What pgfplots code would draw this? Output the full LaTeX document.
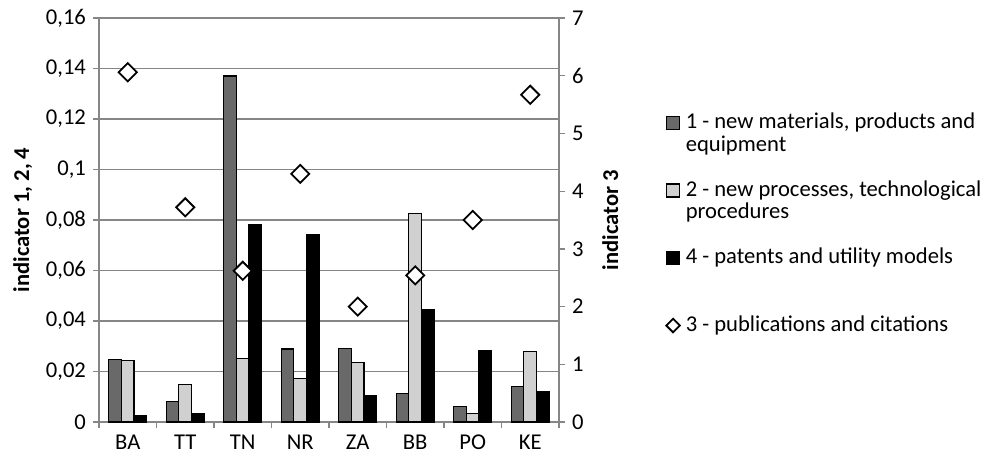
\documentclass[border=0pt]{standalone}
\usepackage{pgfplots}
\pgfplotsset{compat=1.18}
\usepackage{fontspec}
\setmainfont{Carlito}
\definecolor{dg}{RGB}{105,105,105}
\definecolor{lg}{RGB}{208,208,208}
\definecolor{gridc}{RGB}{134,134,134}
\pgfplotsset{sqleg/.style={legend image code/.code={\draw[##1] (0pt,-3.25pt) rectangle (6.5pt,3.25pt);}},
  dmleg/.style={legend image code/.code={\draw[black, fill=white, line width=0.9pt] (3.25pt,-3.4pt) -- (6.65pt,0pt) -- (3.25pt,3.4pt) -- (-0.15pt,0pt) -- cycle;}}}
\begin{document}
\begin{tikzpicture}[font=\fontsize{11.3}{13.3}\selectfont]
\useasboundingbox (-49.5pt,-20pt) rectangle (443pt,211pt);
\begin{axis}[
  at={(0pt,0pt)}, anchor=south west,
  width=230pt, height=202pt, scale only axis,
  /pgf/number format/assume math mode=true,
  xmin=-0.5, xmax=7.5, ymin=0, ymax=0.16,
  xtick={0,...,7}, xticklabels={BA,TT,TN,NR,ZA,BB,PO,KE},
  minor xtick={-0.5,0.5,...,7.5},
  major x tick style={draw=none},
  minor x tick style={draw=gridc, line width=0.65pt},
  ytick={0,0.02,0.04,0.06,0.08,0.1,0.12,0.14,0.16},
  y tick style={draw=gridc, line width=0.65pt},
  yticklabel style={/pgf/number format/fixed,/pgf/number format/use comma,/pgf/number format/precision=2},
  tick align=outside, major tick length=3pt, minor tick length=3pt,
  ymajorgrids, grid style={draw=gridc, line width=0.65pt},
  axis x line*=bottom, axis y line*=left,
  axis line style={draw=gridc, line width=0.65pt},
  ylabel={\bfseries indicator 1, 2, 4},
  legend cell align=left,
  legend style={at={(1.2304,0.767)}, anchor=north west, draw=none, fill=none,
    inner sep=0pt, row sep=0.75pt, column sep=2.5pt,
    nodes={inner sep=0pt, text height=8pt, text depth=2.5pt}},
]
\addplot[ybar, bar width=6.35pt, bar shift=-6.35pt, fill=dg, draw=black, line width=0.6pt, sqleg]
  coordinates {(0,0.0246)(1,0.0082)(2,0.137)(3,0.0289)(4,0.0291)(5,0.0114)(6,0.006)(7,0.014)};
\addlegendentry{1 - new materials, products and}
\addlegendimage{empty legend}\addlegendentry{equipment}
\addlegendimage{empty legend}\addlegendentry{}
\addplot[ybar, bar width=6.35pt, bar shift=0pt, fill=lg, draw=black, line width=0.6pt, sqleg]
  coordinates {(0,0.0243)(1,0.0149)(2,0.0251)(3,0.0172)(4,0.0236)(5,0.0825)(6,0.0034)(7,0.0279)};
\addlegendentry{2 - new processes, technological}
\addlegendimage{empty legend}\addlegendentry{procedures}
\addlegendimage{empty legend}\addlegendentry{}
\addplot[ybar, bar width=6.35pt, bar shift=6.35pt, fill=black, draw=black, line width=0.6pt, sqleg]
  coordinates {(0,0.0027)(1,0.0032)(2,0.0783)(3,0.0743)(4,0.0106)(5,0.0444)(6,0.0283)(7,0.0119)};
\addlegendentry{4 - patents and utility models}
\addlegendimage{empty legend}\addlegendentry{}
\addlegendimage{empty legend}\addlegendentry{}
\addlegendimage{dmleg}
\addlegendentry{3 - publications and citations}
\end{axis}
\begin{axis}[
  at={(0pt,0pt)}, anchor=south west,
  width=230pt, height=202pt, scale only axis,
  /pgf/number format/assume math mode=true,
  xmin=-0.5, xmax=7.5, ymin=0, ymax=7,
  hide x axis, axis y line*=right,
  ytick={0,1,2,3,4,5,6,7},
  tick align=outside, major tick length=3pt,
  y tick style={draw=gridc, line width=0.65pt},
  axis line style={draw=gridc, line width=0.65pt},
  ylabel={\bfseries indicator 3}, ylabel shift=2.5pt,
]
\addplot[only marks, mark=square*, mark size=3.2pt, mark options={rotate=45, fill=white, draw=black, line width=0.9pt}]
  coordinates {(0,6.06)(1,3.72)(2,2.62)(3,4.3)(4,2.0)(5,2.54)(6,3.5)(7,5.67)};
\end{axis}
\end{tikzpicture}
\end{document}
